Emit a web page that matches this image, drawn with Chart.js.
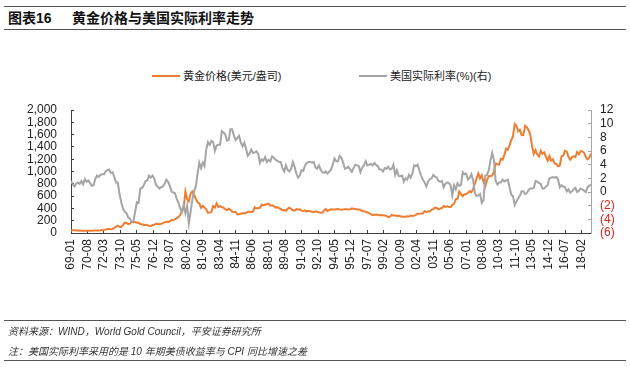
<!DOCTYPE html>
<html>
<head>
<meta charset="utf-8">
<script src="https://cdn.jsdelivr.net/npm/chart.js@4/dist/chart.umd.min.js"></script>
<style>
  html, body { margin: 0; padding: 0; background: #fff; }
  #wrap { position: relative; width: 630px; height: 367px; overflow: hidden; font-family: "Liberation Sans", Arial, "Noto Sans CJK SC", sans-serif; color: #222; }
  #c { position: absolute; left: 0; top: 0; }
  .rule { position: absolute; left: 4px; width: 622px; height: 0; border-top: 1.5px solid #555; }
  #title { position: absolute; left: 8px; top: 9px; font-size: 14px; font-weight: bold; line-height: 18px; white-space: nowrap; font-family: "Liberation Sans", Arial, "Noto Sans CJK SC", sans-serif; color: #111; }
  #title .num { display: inline-block; width: 64px; }
  .leg { position: absolute; top: 69px; font-size: 11px; line-height: 14px; white-space: nowrap; color: #222; font-family: "Liberation Sans", Arial, "Noto Sans CJK SC", sans-serif; }
  .leg .sw { position: absolute; top: 6px; width: 28px; height: 0; border-top: 2.5px solid; }
  .note { position: absolute; left: 8px; font-size: 10px; line-height: 13px; font-style: italic; white-space: nowrap; color: #333; font-family: "Liberation Sans", Arial, "Noto Sans CJK SC", sans-serif; }
</style>
</head>
<body>
<div id="wrap">
  <div class="rule" style="top:6px"></div>
  <div id="title"><span class="num">图表16</span>黄金价格与美国实际利率走势</div>
  <div class="rule" style="top:29px"></div>
  <div id="legend"></div>
  <canvas id="c" width="630" height="367"></canvas>
  <div class="rule" style="top:320px"></div>
  <div class="note" style="top:325px">资料来源：WIND，World Gold Council，平安证券研究所</div>
  <div class="note" style="top:345px">注：美国实际利率采用的是 10 年期美债收益率与 CPI 同比增速之差</div>
  <div class="rule" style="top:360px"></div>
</div>
<script>
// Monthly index from 1969-01, data every 2 months (Jan, Mar, May, Jul, Sep, Nov), 1969-01 .. 2019-01
const startYear = 1969;
const stepMonths = 2;
const seriesNames = ['黄金价格(美元/盎司)', '美国实际利率(%)(右)'];
const tickLabels = ['69-01','70-08','72-03','73-10','75-05','76-12','78-07','80-02','81-09','83-04','84-11','86-06','88-01','89-08','91-03','92-10','94-05','95-12','97-07','99-02','00-09','02-04','03-11','05-06','07-01','08-08','10-03','11-10','13-05','14-12','16-07','18-02'];
const tickEveryMonths = 19;

const goldPrice = [
  42.3, 43.4, 43.5, 41.8, 40.8, 35.3,
  34.9, 35.1, 35.5, 35.3, 36.2, 37.4,
  37.9, 38.9, 40.5, 40.9, 42.0, 42.9,
  45.8, 48.3, 54.6, 65.7, 65.5, 62.9,
  65.1, 84.4, 102.1, 120.2, 102.1, 94.8,
  129.2, 168.4, 163.3, 143.0, 151.8, 181.7,
  176.3, 178.2, 167.4, 165.2, 144.1, 142.8,
  131.6, 132.6, 128.0, 117.5, 114.0, 130.6,
  132.3, 148.2, 146.6, 143.4, 149.4, 160.3,
  173.2, 183.7, 176.2, 188.5, 212.6, 207.0,
  227.3, 242.1, 257.3, 296.4, 355.1, 392.5,
  675.3, 553.6, 513.8, 644.3, 674.0, 623.5,
  557.1, 500.0, 480.3, 409.3, 443.3, 413.4,
  384.0, 330.6, 333.4, 339.1, 437.7, 414.1,
  481.0, 421.7, 437.2, 423.2, 414.0, 381.7,
  370.5, 394.4, 377.7, 347.4, 341.1, 341.2,
  303.0, 304.0, 316.5, 317.4, 323.6, 325.3,
  345.4, 345.6, 342.6, 348.0, 417.6, 398.8,
  408.4, 409.0, 460.3, 450.4, 460.1, 468.7,
  477.4, 443.6, 451.3, 437.3, 413.1, 420.2,
  404.0, 390.5, 371.2, 375.0, 362.3, 394.4,
  410.1, 393.3, 369.5, 362.5, 389.3, 381.7,
  384.0, 363.5, 357.3, 367.9, 348.9, 359.9,
  354.5, 344.1, 337.2, 352.8, 345.6, 334.8,
  329.0, 330.0, 367.0, 392.0, 356.0, 374.0,
  387.0, 384.0, 381.0, 386.0, 391.0, 384.0,
  379.0, 382.0, 385.0, 386.0, 383.0, 387.0,
  400.0, 396.0, 392.0, 383.0, 383.0, 378.0,
  355.0, 352.0, 345.0, 334.0, 323.0, 306.0,
  289.0, 296.0, 299.0, 293.0, 289.0, 294.0,
  287.0, 286.0, 277.0, 256.0, 265.0, 293.0,
  285.0, 286.0, 275.0, 282.0, 273.0, 266.0,
  265.0, 263.0, 272.0, 268.0, 283.0, 276.0,
  282.0, 294.0, 314.0, 314.0, 319.0, 319.0,
  356.0, 340.0, 355.0, 351.0, 379.0, 389.0,
  414.0, 406.0, 384.0, 398.0, 405.0, 439.0,
  424.0, 434.0, 422.0, 424.0, 456.0, 476.0,
  549.0, 557.0, 676.0, 633.0, 598.0, 629.0,
  632.0, 654.0, 679.0, 665.0, 712.0, 806.0,
  889.0, 968.0, 889.0, 940.0, 830.0, 760.0,
  858.0, 924.0, 928.0, 934.0, 996.0, 1128.0,
  1118.0, 1113.0, 1205.0, 1193.0, 1271.0, 1370.0,
  1356.0, 1424.0, 1510.0, 1573.0, 1772.0, 1739.0,
  1654.0, 1675.0, 1592.0, 1594.0, 1744.0, 1721.0,
  1671.0, 1592.0, 1414.0, 1287.0, 1349.0, 1275.0,
  1244.0, 1336.0, 1288.0, 1311.0, 1240.0, 1176.0,
  1251.0, 1178.0, 1199.0, 1130.0, 1125.0, 1086.0,
  1097.0, 1246.0, 1260.0, 1337.0, 1326.0, 1238.0,
  1192.0, 1231.0, 1246.0, 1236.0, 1315.0, 1280.0,
  1331.0, 1325.0, 1304.0, 1238.0, 1198.0, 1221.0,
  1291.0
];

const realRate = [
  1.6, 1.1, 0.8, 1.2, 1.4, 1.2,
  1.6, 1.1, 1.9, 1.5, 1.7, 1.3,
  0.9, 1.0, 1.9, 2.4, 2.2, 2.5,
  2.6, 2.6, 3.0, 3.2, 3.3, 2.8,
  2.9, 2.2, 1.4, 1.4, -0.3, -1.5,
  -2.4, -2.9, -3.1, -3.7, -3.9, -4.4,
  -4.3, -2.9, -1.5, -1.6, 0.5, 0.6,
  1.0, 1.6, 1.7, 2.4, 2.1, 2.4,
  2.0, 1.1, 0.8, 0.5, 0.7, 0.8,
  1.2, 1.8, 1.5, 0.9, 0.1, -0.1,
  -0.2, -1.0, -1.6, -2.4, -2.9, -1.9,
  -3.1, -2.0, -4.6, -2.9, -1.1, 0.1,
  0.8, 2.6, 4.3, 3.5, 4.3, 3.8,
  6.2, 7.3, 6.9, 7.5, 7.3, 6.0,
  6.8, 6.9, 6.9, 8.9, 8.7, 8.4,
  7.5, 7.6, 9.2, 9.2, 8.2, 7.6,
  7.9, 8.2, 7.2, 6.7, 7.2, 6.3,
  5.3, 5.6, 6.2, 5.7, 5.8, 5.95,
  5.6, 4.25, 4.8, 4.55, 5.1, 4.4,
  4.7, 4.5, 5.2, 5.0, 4.7, 4.6,
  4.4, 4.4, 3.5, 3.0, 3.9, 3.2,
  3.0, 3.4, 4.4, 3.7, 2.7, 2.1,
  2.4, 3.2, 3.1, 3.9, 4.25, 4.4,
  4.4, 4.3, 4.4, 3.6, 3.4, 3.9,
  3.3, 2.9, 2.8, 3.0, 2.7, 3.0,
  3.25, 4.0, 4.9, 4.5, 4.5, 5.3,
  5.0, 4.3, 3.4, 3.5, 3.7, 3.3,
  2.95, 3.5, 4.0, 3.9, 3.8, 2.9,
  3.6, 3.9, 4.5, 3.9, 4.0, 4.1,
  3.9, 4.25, 3.95, 3.8, 3.3, 3.3,
  3.0, 3.5, 3.4, 3.7, 3.3, 3.4,
  4.0, 2.5, 3.2, 2.35, 2.3, 2.4,
  1.5, 2.0, 1.8, 2.5, 2.1, 2.75,
  3.9, 3.8, 4.0, 3.1, 2.4, 1.8,
  1.4, 0.8, 1.5, 1.9, 2.0, 2.5,
  2.25, 2.1, 1.6, 1.5, 1.6, 0.7,
  1.2, 1.4, 1.3, 1.0, -0.5, 1.0,
  0.4, 1.3, 0.9, 1.0, 2.9, 2.6,
  2.7, 1.8, 2.05, 2.6, 1.7, -0.15,
  -0.6, -0.5, -0.3, -1.6, -1.2, 2.4,
  2.5, 3.2, 4.6, 5.7, 4.7, 1.6,
  1.1, 1.4, 1.4, 1.8, 1.55, 1.7,
  1.8, 0.7, -0.4, -0.6, -1.9, -1.4,
  -0.9, -0.5, 0.1, 0.1, -0.3, -0.15,
  0.3, 0.5, 0.5, 0.6, 1.6, 1.5,
  1.3, 1.2, 0.5, 0.5, 0.8, 1.0,
  2.0, 2.1, 2.2, 2.1, 2.2, 1.8,
  0.7, 1.0, 0.8, 0.7, 0.1, 0.4,
  -0.1, 0.1, 0.4, 0.6, 0.0, 0.15,
  0.5, 0.4, 0.2, 0.0, 0.7, 0.9,
  1.1
];

const leftTicks = { min: 0, max: 2000, step: 200 };
const rightTicks = { min: -6, max: 12, step: 2 };

const colors = { gold: '#ED7D31', rate: '#A5A5A5' };

const toPoints = arr => arr.map((v, i) => ({ x: i * stepMonths, y: v }));
const totalMonths = (goldPrice.length - 1) * stepMonths;

// HTML legend (text from series names)
const legendEl = document.getElementById('legend');
const legendDefs = [
  { name: seriesNames[0], color: colors.gold, left: 152 },
  { name: seriesNames[1], color: colors.rate, left: 359 }
];
legendDefs.forEach(d => {
  const item = document.createElement('div');
  item.className = 'leg';
  item.style.left = d.left + 'px';
  item.style.paddingLeft = '31px';
  const sw = document.createElement('span');
  sw.className = 'sw';
  sw.style.left = '0px';
  sw.style.borderTopColor = d.color;
  item.appendChild(sw);
  item.appendChild(document.createTextNode(d.name));
  legendEl.appendChild(item);
});

const axisDark = '#404040';
const tickFont = { family: '"Liberation Sans", Arial, sans-serif', size: 12 };

new Chart(document.getElementById('c'), {
  type: 'line',
  data: {
    datasets: [
      {
        label: seriesNames[1],
        data: toPoints(realRate),
        yAxisID: 'y1',
        borderColor: colors.rate,
        borderWidth: 2,
        pointRadius: 0,
        tension: 0,
        order: 0
      },
      {
        label: seriesNames[0],
        data: toPoints(goldPrice),
        yAxisID: 'y',
        borderColor: colors.gold,
        borderWidth: 2,
        pointRadius: 0,
        tension: 0,
        order: 1
      }
    ]
  },
  options: {
    responsive: false,
    animation: false,
    devicePixelRatio: 1,
    layout: { padding: { top: 110, bottom: 94, left: 0, right: 0 } },
    plugins: { legend: { display: false }, tooltip: { enabled: false } },
    scales: {
      x: {
        type: 'linear',
        min: 0,
        max: totalMonths,
        grid: { display: true, drawOnChartArea: false, drawTicks: true, tickLength: -3, color: axisDark, lineWidth: 1 },
        border: { display: true, color: axisDark, width: 1 },
        ticks: {
          stepSize: tickEveryMonths,
          includeBounds: false,
          autoSkip: false,
          minRotation: 90,
          maxRotation: 90,
          padding: 9,
          color: '#222',
          font: tickFont,
          callback: (v) => tickLabels[Math.round(v / tickEveryMonths)] ?? ''
        },
        afterFit: s => { s.height = 40; }
      },
      y: {
        position: 'left',
        min: leftTicks.min,
        max: leftTicks.max,
        grid: { display: true, drawOnChartArea: false, drawTicks: true, tickLength: -3, color: axisDark },
        border: { display: true, color: axisDark, width: 1 },
        ticks: {
          stepSize: leftTicks.step,
          autoSkip: false,
          padding: 17,
          color: '#222',
          font: tickFont,
          callback: v => Number(v).toLocaleString('en-US')
        },
        afterFit: s => { s.width = 71; }
      },
      y1: {
        position: 'right',
        min: rightTicks.min,
        max: rightTicks.max,
        grid: { display: true, drawOnChartArea: false, drawTicks: true, tickLength: -3, color: '#A6A6A6' },
        border: { display: true, color: '#A6A6A6', width: 1 },
        ticks: {
          stepSize: rightTicks.step,
          autoSkip: false,
          padding: 12,
          font: tickFont,
          color: ctx => (ctx.tick && ctx.tick.value < 0) ? '#E0201B' : '#222',
          callback: v => v < 0 ? '(' + (-v) + ')' : String(v)
        },
        afterFit: s => { s.width = 39; }
      }
    }
  }
});
</script>
</body>
</html>
